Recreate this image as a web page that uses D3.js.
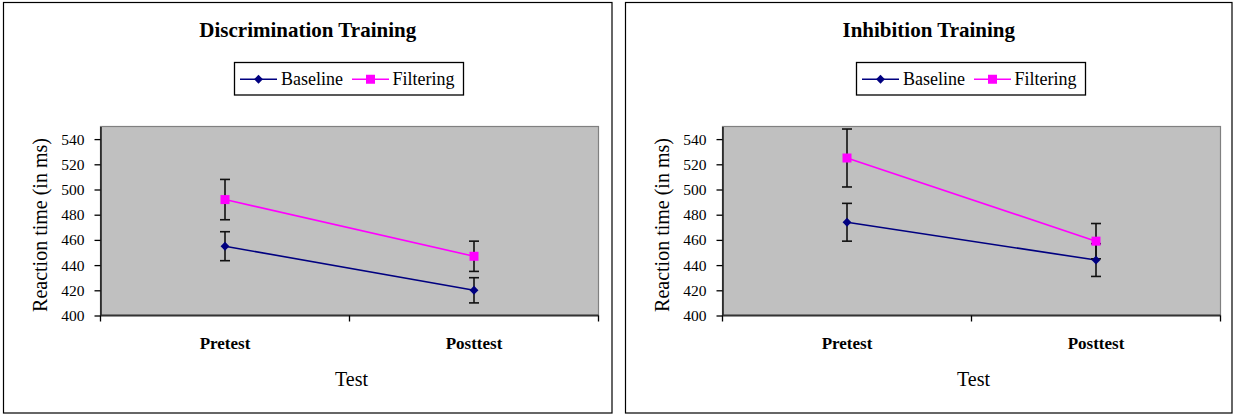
<!DOCTYPE html>
<html><head><meta charset="utf-8">
<script src="https://cdn.jsdelivr.net/npm/d3@7"></script>
<style>body{margin:0;background:#fff}svg{display:block}text{font-family:"Liberation Serif","Times New Roman",serif;fill:#000}</style>
</head><body>
<svg id="c" width="1234" height="415"></svg>
<script>
const categories = ["Pretest", "Posttest"];
const yTicks = [400, 420, 440, 460, 480, 500, 520, 540];
const seriesNames = ["Baseline", "Filtering"];
const seriesColors = ["#000080", "#FF00FF"];

const discTitle = "Discrimination Training";
const discBaseline = [455, 420];
const discBaselineErr = [11.5, 10];
const discFiltering = [492, 447];
const discFilteringErr = [16, 12];

const inhTitle = "Inhibition Training";
const inhBaseline = [474, 444];
const inhBaselineErr = [15, 13];
const inhFiltering = [525, 459];
const inhFilteringErr = [23, 14];

const svg = d3.select("#c");

function panel(ox, w, title, vals, errs) {
  const g = svg.append("g").attr("transform", `translate(${ox},0)`);
  g.append("rect").attr("x", 0.5).attr("y", 2.5).attr("width", w).attr("height", 410.5)
    .attr("fill", "#fff").attr("stroke", "#000").attr("stroke-width", 1.2);
  const pl = 97.5, pr = 595.5, pt = 126.5, pb = 315.5;
  const x = d3.scaleBand().domain(categories).range([pl, pr]).padding(0);
  const y = d3.scaleLinear().domain([400, 550]).range([pb, pt]);

  g.append("text").attr("x", w / 2 + 0.5).attr("y", 37).attr("text-anchor", "middle")
    .attr("font-weight", "bold").attr("font-size", "21px").text(title);

  // plot area
  g.append("rect").attr("x", pl).attr("y", pt).attr("width", pr - pl).attr("height", pb - pt)
    .attr("fill", "#C0C0C0").attr("stroke", "#808080").attr("stroke-width", 1.2);

  // y axis
  const ya = g.append("g").attr("transform", `translate(${pl},0)`)
    .call(d3.axisLeft(y).tickValues(yTicks).tickSize(6).tickPadding(10).tickSizeOuter(0));
  ya.attr("font-family", null);
  ya.select(".domain").attr("stroke", "#000").attr("stroke-width", 1.3);
  ya.selectAll(".tick line").attr("stroke", "#000").attr("stroke-width", 1.3);
  ya.selectAll(".tick text").attr("font-size", "15.5px").attr("fill", "#1a1a1a");

  // x axis
  const xa = g.append("g").attr("transform", `translate(0,${pb})`);
  xa.append("line").attr("x1", pl).attr("x2", pr).attr("stroke", "#333").attr("stroke-width", 1.8);
  const bounds = categories.map(c => x(c)).concat([x(categories[categories.length - 1]) + x.bandwidth()]);
  xa.selectAll("line.t").data(bounds).join("line").attr("class", "t")
    .attr("x1", d => d).attr("x2", d => d).attr("y1", 0).attr("y2", 6)
    .attr("stroke", "#000").attr("stroke-width", 1.3);
  xa.selectAll("text").data(categories).join("text")
    .attr("x", d => x(d) + x.bandwidth() / 2).attr("y", 33).attr("text-anchor", "middle")
    .attr("font-weight", "bold").attr("font-size", "17px").text(d => d);

  g.append("text").attr("x", (pl + pr) / 2 + 2).attr("y", 386).attr("text-anchor", "middle")
    .attr("font-size", "20px").text("Test");
  g.append("text").attr("transform", `translate(44,${(pt + pb) / 2 + 4}) rotate(-90)`)
    .attr("text-anchor", "middle").attr("font-size", "20px").text("Reaction time (in ms)");

  const cx = c => x(c) + x.bandwidth() / 2;
  vals.forEach((v, si) => {
    const color = seriesColors[si];
    const line = d3.line().x((d, i) => cx(categories[i])).y(d => y(d));
    g.append("path").datum(v).attr("d", line).attr("fill", "none").attr("stroke", color).attr("stroke-width", 1.6);
  });
  // error bars
  vals.forEach((v, si) => {
    v.forEach((d, i) => {
      const X = cx(categories[i]), e = errs[si][i];
      const eg = g.append("g").attr("stroke", "#111").attr("stroke-width", 1.6);
      eg.append("line").attr("x1", X).attr("x2", X).attr("y1", y(d - e)).attr("y2", y(d + e));
      [d - e, d + e].forEach(t => eg.append("line").attr("x1", X - 5).attr("x2", X + 5).attr("y1", y(t)).attr("y2", y(t)));
    });
  });
  // markers
  vals.forEach((v, si) => {
    v.forEach((d, i) => {
      const X = cx(categories[i]), Y = y(d);
      if (si === 0) {
        g.append("path").attr("d", d3.symbol(d3.symbolDiamond2, 50)())
          .attr("transform", `translate(${X},${Y})`).attr("fill", seriesColors[0]);
      } else {
        g.append("rect").attr("x", X - 4.5).attr("y", Y - 4.5).attr("width", 9).attr("height", 9).attr("fill", seriesColors[1]);
      }
    });
  });

  // legend
  const lx = 231.5, ly = 62.5, lw = 229, lh = 32.5;
  const lg = g.append("g");
  lg.append("rect").attr("x", lx).attr("y", ly).attr("width", lw).attr("height", lh)
    .attr("fill", "#fff").attr("stroke", "#000").attr("stroke-width", 1.3);
  const items = [{ x0: lx + 5.5, tx: lx + 46.5 }, { x0: lx + 117.5, tx: lx + 158 }];
  seriesNames.forEach((n, i) => {
    const it = items[i], my = ly + lh / 2 + 0.5;
    lg.append("line").attr("x1", it.x0).attr("x2", it.x0 + 37).attr("y1", my).attr("y2", my)
      .attr("stroke", seriesColors[i]).attr("stroke-width", 1.6);
    if (i === 0) lg.append("path").attr("d", d3.symbol(d3.symbolDiamond2, 50)())
      .attr("transform", `translate(${it.x0 + 18.5},${my})`).attr("fill", seriesColors[0]);
    else lg.append("rect").attr("x", it.x0 + 14).attr("y", my - 4.5).attr("width", 9).attr("height", 9).attr("fill", seriesColors[1]);
    lg.append("text").attr("x", it.tx).attr("y", my + 6).attr("font-size", "18px").text(n);
  });
}

panel(3, 608.5, discTitle, [discBaseline, discFiltering], [discBaselineErr, discFilteringErr]);
panel(625, 606.5, inhTitle, [inhBaseline, inhFiltering], [inhBaselineErr, inhFilteringErr]);
</script>
</body></html>
